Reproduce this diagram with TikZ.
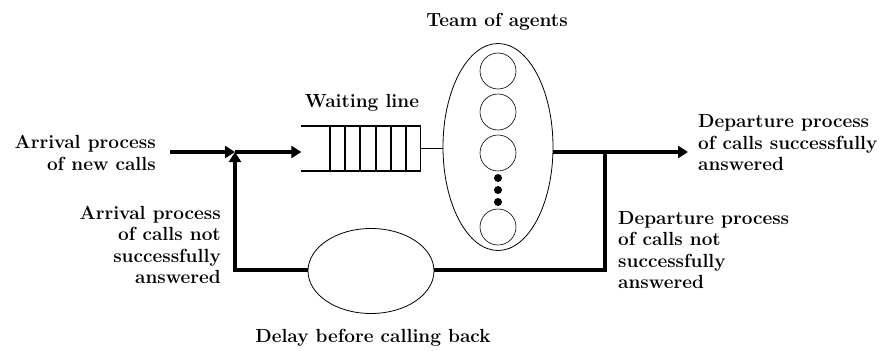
\documentclass[tikz,border=0pt]{standalone}
\usepackage{tikz}
\usetikzlibrary{shapes.geometric, arrows.meta, positioning}
\tikzset{
	label/.style={
		font=\fontsize{19}{21.5}\selectfont\bfseries,
		inner sep=0pt
	},
	flow/.style={line width=3.8pt},
	arrow/.style={flow,-{Triangle[length=10pt,width=12pt]}},
	thinline/.style={line width=0.8pt},
	queueline/.style={line width=1.5pt},
	agent/.style={
		circle,
		minimum size=36pt,
		inner sep=0pt,
		draw=black,
		line width=0.6pt
	},
	dot/.style={circle, fill=black, minimum size=8pt, inner sep=0pt}
}

\begin{document}
\begin{tikzpicture}[x=1pt, y=-1pt]
				\useasboundingbox (0,0) rectangle (887,351);

				% queue and servers
				\node (queue) [minimum width=119pt, minimum height=45pt, inner sep=0pt] at (361,148.5) {};
				\node (team) [ellipse, draw=black, line width=0.8pt, minimum width=110pt, minimum height=207pt, inner sep=0pt] at (498,147) {};
				\node (agent1) [agent] at (498,71) {};
				\node (agent2) [agent] at (498,112) {};
				\node (agent3) [agent] at (498,153) {};
				\node (agent4) [agent] at (498,227) {};
				\foreach \y in {178,190,202}
					\node [dot] at (498,\y) {};
				\node (delay) [ellipse, draw=black, line width=0.8pt, minimum width=126pt, minimum height=85pt, inner sep=0pt] at (371,271) {};

				\draw [queueline] (queue.north west) -- (queue.north east) -- (queue.south east) -- (queue.south west);
				\foreach \x in {330,345,360,376,391,406}
					\draw [queueline] (\x,126) -- (\x,171);

				% labels
				\node (teamlabel) [label] at (497,22) {Team of agents};
				\node (waitlabel) [label] at (362,103) {Waiting line};
				\node (delaylabel) [label] at (373,338) {Delay before calling back};
				\node (newcalls) [label, align=right, anchor=east] at (156,153) {Arrival process\\of new calls};
				\node (retry) [label, align=right, anchor=east] at (221,245) {Arrival process\\of calls not\\successfully\\answered};
				\node (success) [label, align=left, anchor=west] at (698,143) {Departure process\\of calls successfully\\answered};
				\node (fail) [label, align=left, anchor=west] at (618,250) {Departure process\\of calls not\\successfully\\answered};

				% flow
				\coordinate (start) at (170,152);
				\coordinate (join) at (235,152);
				\coordinate (split) at (605,152);
				\coordinate (corner) at (605,270);
				\coordinate (depart) at (688,152);

				\draw [arrow] (start) -- (join);
				\draw [arrow] (join) -- (queue.west |- join);
				\draw [thinline] (queue.east) -- (queue.east -| team.west);
				\draw [arrow] (team.east |- split) -- (depart);
				\draw [flow] (split) -- (corner) -- (delay.east |- corner);
				\draw [arrow] (delay.west |- corner) -| (join);
			\end{tikzpicture}
\end{document}
